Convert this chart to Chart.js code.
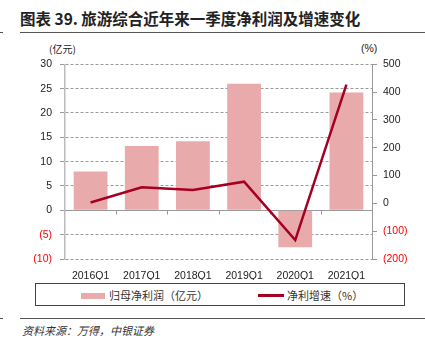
<!DOCTYPE html>
<html><head><meta charset="utf-8">
<script src="https://cdn.jsdelivr.net/npm/chart.js@4/dist/chart.umd.min.js"></script>
<style>
html,body{margin:0;padding:0;background:#fff;}
body{width:425px;height:355px;position:relative;overflow:hidden;font-family:"Liberation Sans",Arial,sans-serif;}
.abs{position:absolute;white-space:nowrap;}
#title{left:20px;top:7px;font:bold 15.5px "Noto Sans CJK SC",sans-serif;color:#222;}
.rule{position:absolute;height:1px;background:#555;}
#unitL{left:49px;top:41px;font:10px "Noto Sans CJK SC",sans-serif;color:#222;}
#unitR{left:361px;top:42px;font:10.5px "Liberation Sans",Arial,sans-serif;color:#222;}
#chartBox{position:absolute;left:0;top:50px;width:425px;height:230px;}
#legend{position:absolute;left:35px;top:283px;width:370px;height:23px;border:1px solid #444;box-sizing:border-box;}
.lg{position:absolute;font:11px "Noto Sans CJK SC",sans-serif;color:#333;top:3px;}
#src{left:22px;top:322px;font:italic 11px "Noto Sans CJK SC",sans-serif;color:#333;}
</style></head>
<body>
<div id="title" class="abs">图表 39. 旅游综合近年来一季度净利润及增速变化</div>
<div class="rule" style="left:0;top:32px;width:3px;"></div>
<div class="rule" style="left:20px;top:32px;width:405px;"></div>
<div id="unitL" class="abs">(亿元)</div>
<div id="unitR" class="abs">(%)</div>
<div id="chartBox"><canvas id="c" width="425" height="230"></canvas></div>
<div id="legend">
  <div style="position:absolute;left:45px;top:9px;width:24px;height:6px;background:#E8AAAA;"></div>
  <div class="lg" style="left:73px;">归母净利润（亿元）</div>
  <div style="position:absolute;left:222px;top:10px;width:26px;height:2.5px;background:#A50021;"></div>
  <div class="lg" style="left:251px;">净利增速（%）</div>
</div>
<div class="rule" style="left:0;top:318px;width:3px;"></div>
<div class="rule" style="left:20px;top:318px;width:405px;"></div>
<div id="src" class="abs">资料来源：万得，中银证券</div>
<script>
const categories = ['2016Q1','2017Q1','2018Q1','2019Q1','2020Q1','2021Q1'];
const netProfit = [8.0, 13.2, 14.2, 26.0, -7.6, 24.2];      // 亿元
const profitGrowth = [3, 58, 48, 78, -132, 427];           // %
const leftTicks = {min:-10, max:30, step:5};
const rightTicks = {min:-200, max:500, step:100};

const fmt = v => v < 0 ? '(' + (-v) + ')' : String(v);
const tickFont = {family:'"Liberation Sans", Arial, sans-serif', size:10.5};

const zeroLine = {
  id:'zeroLine',
  beforeDatasetsDraw(chart){
    const {ctx, chartArea:a, scales:{x, y}} = chart;
    const y0 = Math.round(y.getPixelForValue(0)) + 0.5;
    ctx.save();
    ctx.strokeStyle = '#999';
    ctx.lineWidth = 1;
    ctx.beginPath();
    ctx.moveTo(a.left, y0); ctx.lineTo(a.right, y0);
    for (let i = 1; i < categories.length; i++) {
      const px = Math.round((x.getPixelForValue(i-1) + x.getPixelForValue(i)) / 2) + 0.5;
      ctx.moveTo(px, y0); ctx.lineTo(px, y0 + 4);
    }
    ctx.stroke();
    ctx.restore();
  }
};

new Chart(document.getElementById('c'), {
  data: {
    labels: categories,
    datasets: [
      {type:'line', label:'净利增速（%）', data:profitGrowth, yAxisID:'y1',
       borderColor:'#A50021', borderWidth:2.5, pointRadius:0, tension:0, order:1},
      {type:'bar', label:'归母净利润（亿元）', data:netProfit, yAxisID:'y',
       backgroundColor:'#E8AAAA', borderWidth:0, barPercentage:0.66, categoryPercentage:1, order:2}
    ]
  },
  options: {
    responsive:false, animation:false, devicePixelRatio:1,
    layout:{padding:{top:14, left:0, right:0, bottom:0}},
    plugins:{legend:{display:false}, tooltip:{enabled:false}},
    scales:{
      x:{
        type:'category',
        grid:{display:false}, border:{display:false},
        ticks:{font:tickFont, color:'#222', padding:3, maxRotation:0},
        afterFit(s){ s.height = 21; }
      },
      y:{
        position:'left', min:leftTicks.min, max:leftTicks.max,
        ticks:{stepSize:leftTicks.step, font:tickFont, padding:8,
               callback:fmt, color:c => c.tick.value < 0 ? '#FF0000' : '#222'},
        grid:{color:c => c.tick.value === 0 ? 'rgba(0,0,0,0)' : '#9a9a9a',
              tickColor:'#999', tickLength:5, drawTicks:true, lineWidth:1},
        border:{display:true, color:'#bbb', width:1.5, dash:[3,2]},
        afterFit(s){ s.width = 65; }
      },
      y1:{
        position:'right', min:rightTicks.min, max:rightTicks.max,
        ticks:{stepSize:rightTicks.step, font:tickFont, padding:6,
               callback:fmt, color:c => c.tick.value < 0 ? '#FF0000' : '#222'},
        grid:{drawOnChartArea:false, drawTicks:true, tickLength:5, tickColor:'#999'},
        border:{display:true, color:'#999', width:1},
        afterFit(s){ s.width = 53; }
      }
    }
  },
  plugins:[zeroLine]
});
</script>
</body></html>
